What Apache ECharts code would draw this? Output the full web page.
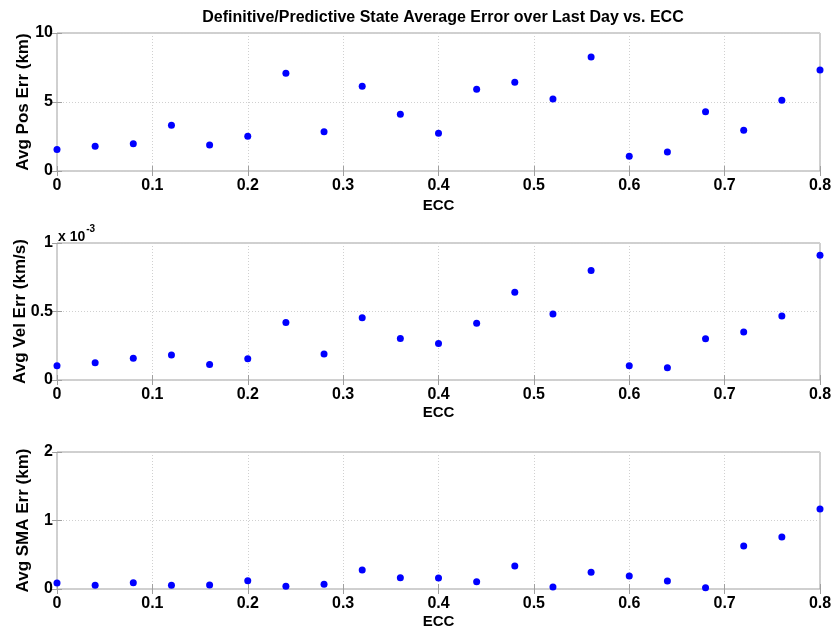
<!DOCTYPE html>
<html><head><meta charset="utf-8">
<script src="https://cdn.jsdelivr.net/npm/echarts@6/dist/echarts.min.js"></script>
<style>html,body{margin:0;padding:0;background:#fff}#c{width:835px;height:633px}</style>
</head><body><div id="c"></div>
<script>
const ecc = [0,0.04,0.08,0.12,0.16,0.2,0.24,0.28,0.32,0.36,0.4,0.44,0.48,0.52,0.56,0.6,0.64,0.68,0.72,0.76,0.8];
const posErr = [1.55,1.79,1.98,3.31,1.88,2.51,7.08,2.85,6.14,4.11,2.73,5.92,6.43,5.22,8.26,1.06,1.38,4.30,2.95,5.12,7.32];
const velErr = [0.104,0.126,0.158,0.182,0.114,0.155,0.42,0.189,0.454,0.303,0.267,0.415,0.641,0.481,0.799,0.104,0.09,0.301,0.35,0.468,0.91]; // x 1e-3
const smaErr = [0.088,0.054,0.092,0.054,0.058,0.12,0.039,0.068,0.277,0.165,0.16,0.107,0.336,0.029,0.243,0.19,0.117,0.019,0.628,0.759,1.168];
const xTicks = [0,0.1,0.2,0.3,0.4,0.5,0.6,0.7,0.8];
const yNames = ['Avg Pos Err (km)','Avg Vel Err (km/s)','Avg SMA Err (km)'];
const yMax = [10,1,2];
const yInt = [5,0.5,1];
const title = 'Definitive/Predictive State Average Error over Last Day vs. ECC';

const FONT = '"Liberation Sans", Arial, sans-serif';
const chart = echarts.init(document.getElementById('c'), null, {renderer:'canvas'});
const grids = [
  {left:57, top:33, width:763, height:138},
  {left:57, top:243, width:763, height:137},
  {left:57, top:452, width:763, height:137}
];
const seriesData = [posErr, velErr, smaErr];
const xAxes = [], yAxes = [], series = [];
grids.forEach((g,i)=>{
  g.show = true; g.borderColor = '#a0a0a0'; g.borderWidth = 1; g.containLabel = false; g.outerBoundsMode = 'none';
  xAxes.push({type:'value', gridIndex:i, min:0, max:0.8, interval:0.1,
    name:'ECC', nameLocation:'middle', nameGap:i===0?27:25, nameMoveOverlap:false,
    nameTextStyle:{fontFamily:FONT, fontWeight:'bold', fontSize:15, color:'#000'},
    axisLine:{show:false}, axisTick:{inside:true, length:5, lineStyle:{color:'#a0a0a0'}},
    axisLabel:{fontFamily:FONT, fontWeight:'bold', fontSize:16, color:'#000', margin:7,
      formatter:v=>xTicks.includes(Math.round(v*10)/10)? String(Math.round(v*10)/10):''},
    splitLine:{show:true, lineStyle:{color:'#d0d0d0', type:[1,2], width:1}}});
  xAxes.push({type:'value', gridIndex:i, min:0, max:0.8, interval:0.1, position:'top',
    axisLine:{show:false}, axisTick:{inside:true, length:5, lineStyle:{color:'#a0a0a0'}},
    axisLabel:{show:false}, splitLine:{show:false}});
  yAxes.push({type:'value', gridIndex:i, min:0, max:yMax[i], interval:yInt[i],
    name:yNames[i], nameLocation:'middle', nameGap:i===1?28:25, nameRotate:90, nameMoveOverlap:false,
    nameTextStyle:{fontFamily:FONT, fontWeight:'bold', fontSize:17, color:'#000'},
    axisLine:{show:false}, axisTick:{inside:true, length:5, lineStyle:{color:'#a0a0a0'}},
    axisLabel:{fontFamily:FONT, fontWeight:'bold', fontSize:16, color:'#000', margin:4},
    splitLine:{show:true, lineStyle:{color:'#d0d0d0', type:[1,2], width:1}}});
  yAxes.push({type:'value', gridIndex:i, min:0, max:yMax[i], interval:yInt[i], position:'right',
    axisLine:{show:false}, axisTick:{inside:true, length:5, lineStyle:{color:'#a0a0a0'}},
    axisLabel:{show:false}, splitLine:{show:false}});
  series.push({type:'scatter', xAxisIndex:i*2, yAxisIndex:i*2, symbol:'circle', symbolSize:7,
    itemStyle:{color:'#0000ff', opacity:1}, silent:true, clip:false,
    data: ecc.map((x,k)=>[x, seriesData[i][k]])});
});
chart.setOption({
  animation:false,
  backgroundColor:'#fff',
  title:{text:title, left:438, top:5, textAlign:'center',
    textStyle:{fontFamily:FONT, fontWeight:'bold', fontSize:16, color:'#000'}},
  grid:grids, xAxis:xAxes, yAxis:yAxes, series:series,
  graphic:[{type:'text', left:58, top:224, style:{
    text:'{a|x 10}{b|-3}', rich:{
      a:{fontFamily:FONT, fontSize:14, fontWeight:'bold', fill:'#000', verticalAlign:'bottom'},
      b:{fontFamily:FONT, fontSize:10, fontWeight:'bold', fill:'#000', verticalAlign:'top', padding:[0,0,10,1]}
    }}}]
});
</script></body></html>
